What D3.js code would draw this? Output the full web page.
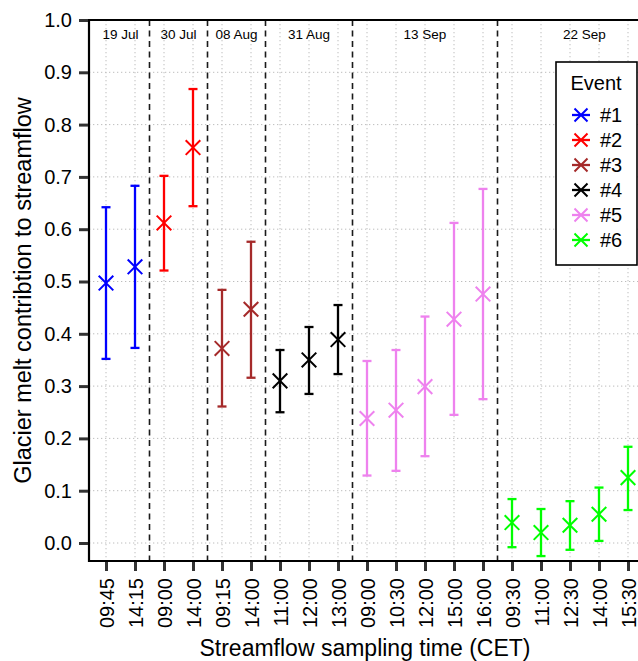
<!DOCTYPE html>
<html>
<head>
<meta charset="utf-8">
<script src="https://cdn.jsdelivr.net/npm/d3@7"></script>
<style>
  html, body { margin: 0; padding: 0; background: #fff; }
  svg { display: block; font-family: "Liberation Sans", Arial, Helvetica, sans-serif; }
</style>
</head>
<body>
<svg id="chart" width="638" height="661"></svg>
<script>
// Sampling times (x-axis tick labels), in order
const times = ["09:45", "14:15", "09:00", "14:00", "09:15", "14:00", "11:00", "12:00", "13:00",
               "09:00", "10:30", "12:00", "15:00", "16:00", "09:30", "11:00", "12:30", "14:00", "15:30"];
// Event number of each sample
const eventOf = [1, 1, 2, 2, 3, 3, 4, 4, 4, 5, 5, 5, 5, 5, 6, 6, 6, 6, 6];
// Glacier melt fraction: central estimate and uncertainty bounds
const meltMid = [0.497, 0.528, 0.612, 0.756, 0.372, 0.447, 0.310, 0.350, 0.389,
                 0.238, 0.254, 0.299, 0.428, 0.476, 0.039, 0.020, 0.034, 0.055, 0.125];
const meltLow = [0.352, 0.373, 0.521, 0.644, 0.261, 0.316, 0.250, 0.285, 0.323,
                 0.129, 0.138, 0.166, 0.245, 0.275, -0.008, -0.025, -0.013, 0.004, 0.063];
const meltHigh = [0.642, 0.683, 0.702, 0.868, 0.484, 0.576, 0.369, 0.413, 0.455,
                  0.348, 0.369, 0.433, 0.612, 0.677, 0.084, 0.065, 0.080, 0.106, 0.184];
// Events: legend labels and colours
const events = ["#1", "#2", "#3", "#4", "#5", "#6"];
const eventColors = ["#0000FF", "#FF0000", "#A52A2A", "#000000", "#EE82EE", "#00FF00"];
// Event dates and where they sit along the sample index
const eventDates = ["19 Jul", "30 Jul", "08 Aug", "31 Aug", "13 Sep", "22 Sep"];
const datePos = [0.5, 2.5, 4.5, 7, 11, 16.5];
// Boundaries between events (sample index positions)
const boundaries = [1.5, 3.5, 5.5, 8.5, 13.5];
const yTicks = [0, 0.1, 0.2, 0.3, 0.4, 0.5, 0.6, 0.7, 0.8, 0.9, 1.0];

const svg = d3.select("#chart");
const plotL = 89, plotR = 645, plotT = 20, plotB = 561;

const x = d3.scaleLinear().domain([0, times.length - 1]).range([106, 628]);
const y = d3.scaleLinear().domain([0, 1]).range([543, 20]);

// Dotted grid
const grid = svg.append("g")
  .attr("stroke", "#bdbdbd").attr("stroke-width", 1).attr("stroke-dasharray", "1.3,2.7");
grid.selectAll("line.gx").data(times.map((t, i) => i)).join("line")
  .attr("class", "gx")
  .attr("x1", d => x(d)).attr("x2", d => x(d))
  .attr("y1", plotT).attr("y2", plotB);
grid.selectAll("line.gy").data(yTicks).join("line")
  .attr("class", "gy")
  .attr("x1", plotL).attr("x2", plotR)
  .attr("y1", d => y(d)).attr("y2", d => y(d));

// Dashed separators between events
svg.append("g").selectAll("line").data(boundaries).join("line")
  .attr("x1", d => x(d)).attr("x2", d => x(d))
  .attr("y1", plotT).attr("y2", plotB)
  .attr("stroke", "#1a1a1a").attr("stroke-width", 1.6).attr("stroke-dasharray", "6,4.5");

// Event date labels
svg.append("g").selectAll("text").data(eventDates).join("text")
  .attr("x", (d, i) => x(datePos[i])).attr("y", 39)
  .attr("text-anchor", "middle").attr("font-size", 13.5).attr("fill", "#000")
  .text(d => d);

// Error bars
const samples = times.map((t, i) => ({
  i, lo: meltLow[i], hi: meltHigh[i], mid: meltMid[i], color: eventColors[eventOf[i] - 1]
}));
const bars = svg.append("g").selectAll("g").data(samples).join("g")
  .attr("stroke", d => d.color).attr("stroke-width", 2.3).attr("fill", "none");
bars.append("line")
  .attr("x1", d => x(d.i)).attr("x2", d => x(d.i))
  .attr("y1", d => y(d.lo)).attr("y2", d => y(d.hi));
bars.append("line")
  .attr("x1", d => x(d.i) - 4.5).attr("x2", d => x(d.i) + 4.5)
  .attr("y1", d => y(d.lo)).attr("y2", d => y(d.lo));
bars.append("line")
  .attr("x1", d => x(d.i) - 4.5).attr("x2", d => x(d.i) + 4.5)
  .attr("y1", d => y(d.hi)).attr("y2", d => y(d.hi));

// Cross markers at the central estimate
const cross = (cx, cy, r) => `M${cx - r},${cy - r}L${cx + r},${cy + r}M${cx - r},${cy + r}L${cx + r},${cy - r}`;
bars.append("path")
  .attr("d", d => cross(x(d.i), y(d.mid), 7.3))
  .attr("stroke-width", 2);

// Axes frame
const frame = svg.append("g").attr("stroke", "#000").attr("stroke-width", 2.2).attr("fill", "none");
frame.append("path").attr("d", `M${plotR},${plotT}L${plotL},${plotT}L${plotL},${plotB}L${plotR},${plotB}`);

// Y axis
const yAxis = d3.axisLeft(y).tickValues(yTicks).tickFormat(d3.format(".1f")).tickSize(9).tickPadding(7);
const yg = svg.append("g").attr("transform", `translate(${plotL - 1},0)`).call(yAxis);
yg.select(".domain").remove();
yg.selectAll(".tick line").attr("stroke", "#333").attr("stroke-width", 3);
yg.selectAll(".tick text").attr("font-size", 20).attr("fill", "#000")
  .attr("font-family", "Liberation Sans, Arial, sans-serif");

// X axis with rotated time labels
const xAxis = d3.axisBottom(x).tickValues(times.map((t, i) => i)).tickFormat(i => times[i]).tickSize(9).tickPadding(7);
const xg = svg.append("g").attr("transform", `translate(0,${plotB + 1})`).call(xAxis);
xg.select(".domain").remove();
xg.selectAll(".tick line").attr("stroke", "#333").attr("stroke-width", 3);
xg.selectAll(".tick text")
  .attr("font-size", 20).attr("fill", "#000")
  .attr("font-family", "Liberation Sans, Arial, sans-serif")
  .attr("transform", "rotate(-90)")
  .attr("text-anchor", "end")
  .attr("x", -16).attr("y", 0).attr("dy", "0.35em");

// Axis titles
svg.append("text")
  .attr("x", 365).attr("y", 656)
  .attr("text-anchor", "middle").attr("font-size", 23)
  .text("Streamflow sampling time (CET)");
svg.append("text")
  .attr("transform", `translate(31,${(plotT + plotB) / 2}) rotate(-90)`)
  .attr("text-anchor", "middle").attr("font-size", 23.5)
  .text("Glacier melt contribtion to streamflow");

// Legend
const lg = svg.append("g").attr("transform", "translate(556,62)");
lg.append("rect").attr("width", 81).attr("height", 203)
  .attr("fill", "#fff").attr("stroke", "#000").attr("stroke-width", 1.6);
lg.append("text").attr("x", 40).attr("y", 28).attr("text-anchor", "middle")
  .attr("font-size", 20).text("Event");
const items = lg.selectAll("g.item").data(events).join("g")
  .attr("class", "item")
  .attr("transform", (d, i) => `translate(0,${53 + i * 25})`);
items.append("line").attr("x1", 16).attr("x2", 34).attr("y1", 0).attr("y2", 0)
  .attr("stroke", (d, i) => eventColors[i]).attr("stroke-width", 2.3);
items.append("path").attr("d", cross(25, 0, 6.5))
  .attr("stroke", (d, i) => eventColors[i]).attr("stroke-width", 2).attr("fill", "none");
items.append("text").attr("x", 44).attr("y", 0).attr("dy", "0.35em")
  .attr("font-size", 20).text(d => d);
</script>
</body>
</html>
